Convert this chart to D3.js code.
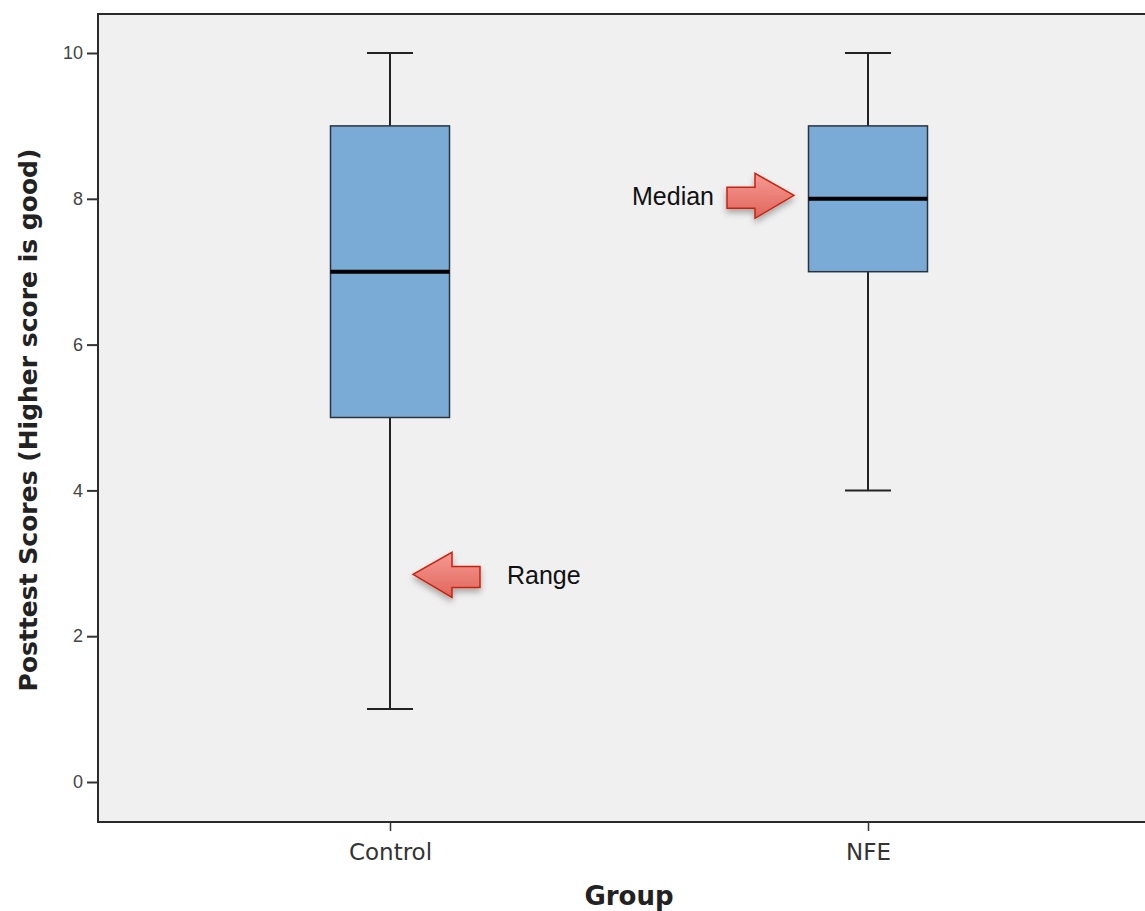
<!DOCTYPE html>
<html><head><meta charset="utf-8">
<script src="https://cdn.jsdelivr.net/npm/d3@7"></script>
<style>body{margin:0;background:#fff}svg{display:block}</style>
</head><body>
<svg id="c" width="1145" height="911"></svg>
<script>
const categories = ["Control", "NFE"];
const mins = [1, 4];
const q1s = [5, 7];
const medians = [7, 8];
const q3s = [9, 9];
const maxs = [10, 10];
const yTicks = [0, 2, 4, 6, 8, 10];
const annotations = [
  {text: "Median", group: "NFE", value: 8, dir: "right"},
  {text: "Range", group: "Control", value: 2.8, dir: "left"}
];

const svg = d3.select("#c");
const pLeft = 98, pTop = 14, pBottom = 822, pRight = 1160;
const y = d3.scaleLinear().domain([0, 10]).range([782, 53]);
const x = d3.scalePoint().domain(categories).range([390, 868]);

const defs = svg.append("defs");
const g = defs.append("linearGradient").attr("id","ag").attr("x1",0).attr("y1",0).attr("x2",0).attr("y2",1);
g.append("stop").attr("offset","0%").attr("stop-color","#f59a92");
g.append("stop").attr("offset","100%").attr("stop-color","#e0665c");
const f = defs.append("filter").attr("id","sh").attr("x","-30%").attr("y","-30%").attr("width","160%").attr("height","180%");
f.append("feDropShadow").attr("dx",0).attr("dy",4).attr("stdDeviation",3).attr("flood-color","#000").attr("flood-opacity",0.3);

// plot area
svg.append("rect").attr("x", pLeft).attr("y", pTop).attr("width", pRight-pLeft).attr("height", pBottom-pTop)
  .attr("fill","#f0f0f0").attr("stroke","#2a2a2a").attr("stroke-width",2);

// y axis
const yAxis = svg.append("g").attr("transform", `translate(${pLeft},0)`)
  .call(d3.axisLeft(y).tickValues(yTicks).tickSize(11).tickPadding(4).tickFormat(d3.format("d")));
yAxis.select(".domain").remove();
yAxis.selectAll("line").attr("stroke","#333").attr("stroke-width",2);
yAxis.selectAll("text").attr("font-family","Liberation Sans, Arial, sans-serif").attr("font-size",18).attr("fill","#444");

// x axis
const xAxis = svg.append("g").attr("transform", `translate(0,${pBottom})`)
  .call(d3.axisBottom(x).tickSize(9).tickPadding(13));
xAxis.select(".domain").remove();
xAxis.selectAll("line").attr("stroke","#333").attr("stroke-width",1.5);
xAxis.selectAll("text").attr("font-family","DejaVu Sans, sans-serif").attr("font-size",23).attr("fill","#333");

// axis titles
svg.append("text").attr("x", 629).attr("y", 905).attr("text-anchor","middle")
  .attr("font-family","DejaVu Sans, sans-serif").attr("font-weight","bold").attr("font-size",26).attr("fill","#222").text("Group");
svg.append("text").attr("transform","translate(37,420) rotate(-90)").attr("text-anchor","middle")
  .attr("font-family","DejaVu Sans, sans-serif").attr("font-weight","bold").attr("font-size",25).attr("fill","#222")
  .text("Posttest Scores (Higher score is good)");

// boxes
const bw = 119, cw = 46;
const data = categories.map((c,i)=>({c, min:mins[i], q1:q1s[i], med:medians[i], q3:q3s[i], max:maxs[i]}));
const bx = svg.append("g").selectAll("g").data(data).join("g");
bx.append("line").attr("x1",d=>x(d.c)).attr("x2",d=>x(d.c)).attr("y1",d=>y(d.min)).attr("y2",d=>y(d.max))
  .attr("stroke","#222").attr("stroke-width",2);
bx.append("line").attr("x1",d=>x(d.c)-cw/2).attr("x2",d=>x(d.c)+cw/2).attr("y1",d=>y(d.min)).attr("y2",d=>y(d.min))
  .attr("stroke","#222").attr("stroke-width",2);
bx.append("line").attr("x1",d=>x(d.c)-cw/2).attr("x2",d=>x(d.c)+cw/2).attr("y1",d=>y(d.max)).attr("y2",d=>y(d.max))
  .attr("stroke","#222").attr("stroke-width",2);
bx.append("rect").attr("x",d=>x(d.c)-bw/2).attr("width",bw).attr("y",d=>y(d.q3)).attr("height",d=>y(d.q1)-y(d.q3))
  .attr("fill","#7aaad6").attr("stroke","#2a3440").attr("stroke-width",1.5);
bx.append("line").attr("x1",d=>x(d.c)-bw/2).attr("x2",d=>x(d.c)+bw/2).attr("y1",d=>y(d.med)).attr("y2",d=>y(d.med))
  .attr("stroke","#000").attr("stroke-width",4);

// annotations
function arrowPath(dir){
  const pts = [[0,0],[-39,-22],[-39,-8],[-67,-8],[-67,13],[-39,13],[-39,23]];
  const p = dir==="right" ? pts : pts.map(([a,b])=>[-a,b]);
  return "M" + p.map(q=>q.join(",")).join("L") + "Z";
}
annotations.forEach(a=>{
  const cy = y(a.value);
  let tipX, tx, anchor;
  if (a.dir === "right") { tipX = x(a.group) - 74; tx = 714; anchor = "end"; }
  else { tipX = x(a.group) + 23; tx = 507; anchor = "start"; }
  svg.append("path").attr("d", arrowPath(a.dir)).attr("transform",`translate(${tipX},${cy - 3.5})`)
    .attr("fill","url(#ag)").attr("stroke","#c8210f").attr("stroke-width",1.5).attr("filter","url(#sh)");
  svg.append("text").attr("x", tx).attr("y", cy + 6).attr("text-anchor", anchor)
    .attr("font-family","Liberation Sans, Helvetica, sans-serif").attr("font-size",25).attr("fill","#111").text(a.text);
});
</script>
</body></html>
